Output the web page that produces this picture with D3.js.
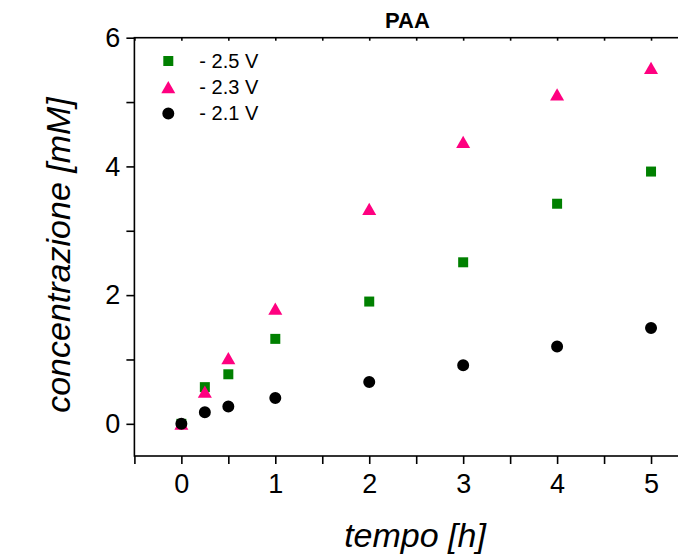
<!DOCTYPE html>
<html>
<head>
<meta charset="utf-8">
<script src="https://cdn.jsdelivr.net/npm/d3@7"></script>
<style>
  html, body { margin: 0; padding: 0; background: #fff; }
  svg { display: block; font-family: "Liberation Sans", Arial, sans-serif; }
</style>
</head>
<body>
<svg id="chart"></svg>
<script>
// PAA concentration vs time, three potentials

const timeH = [0, 0.25, 0.5, 1, 2, 3, 4, 5];
const conc25 = [0, 0.57, 0.77, 1.32, 1.90, 2.51, 3.42, 3.92];
const conc23 = [0, 0.50, 1.02, 1.79, 3.34, 4.38, 5.12, 5.53];
const conc21 = [0, 0.18, 0.27, 0.40, 0.65, 0.91, 1.20, 1.49];

const seriesNames = ['- 2.5 V', '- 2.3 V', '- 2.1 V'];
const seriesColors = ['#008000', '#ff0080', '#000000'];
const seriesValues = [conc25, conc23, conc21];

const xTicks = [-0.5, 0, 0.5, 1, 1.5, 2, 2.5, 3, 3.5, 4, 4.5, 5, 5.5];
const yTicks = [0, 1, 2, 3, 4, 5, 6];

const width = 678, height = 554;
const margin = { top: 37.7, left: 134.4, right: -20, bottom: 98 };

const svg = d3.select('#chart')
    .attr('width', width)
    .attr('height', height);

const x = d3.scaleLinear()
    .domain([-0.5, 5.5])
    .range([margin.left, width - margin.right]);

const y = d3.scaleLinear()
    .domain([-0.5, 6])
    .range([height - margin.bottom, margin.top]);

// frame
svg.append('rect')
    .attr('x', x(-0.5))
    .attr('y', y(6))
    .attr('width', x(5.5) - x(-0.5))
    .attr('height', y(-0.5) - y(6))
    .attr('fill', 'none')
    .attr('stroke', '#000')
    .attr('stroke-width', 1.6);

// bottom axis
const xAxis = svg.append('g')
    .attr('transform', `translate(0,${y(-0.5)})`)
    .call(d3.axisBottom(x)
        .tickValues(xTicks)
        .tickSize(8)
        .tickPadding(10)
        .tickFormat(d => Number.isInteger(d) && d >= 0 ? d3.format('d')(d) : ''));

// top axis, inner ticks
const xTop = svg.append('g')
    .attr('transform', `translate(0,${y(6)})`)
    .call(d3.axisTop(x)
        .tickValues(xTicks)
        .tickSize(-3)
        .tickFormat(''));

// left axis
const yAxis = svg.append('g')
    .attr('transform', `translate(${x(-0.5)},0)`)
    .call(d3.axisLeft(y)
        .tickValues(yTicks)
        .tickSize(8)
        .tickPadding(6)
        .tickFormat(d => d % 2 === 0 ? d3.format('d')(d) : ''));

[xAxis, xTop, yAxis].forEach(a => {
    a.select('.domain').remove();
    a.selectAll('line').attr('stroke', '#000').attr('stroke-width', 1.6);
    a.selectAll('text')
        .attr('fill', '#000')
        .style('font-size', '27px')
        .style('font-family', '"Liberation Sans", Arial, sans-serif');
});

// markers
const symbolTypes = [
    d3.symbol().type(d3.symbolSquare).size(100),
    d3.symbol().type(d3.symbolTriangle).size(85),
    d3.symbol().type(d3.symbolCircle).size(113)
];
// triangle drawn centred on its bounding box
const symbolShift = [0, 2, 0];

seriesValues.forEach((vals, si) => {
    svg.append('g')
        .selectAll('path')
        .data(timeH.map((t, i) => ({ t, v: vals[i] })))
        .enter()
        .append('path')
        .attr('d', symbolTypes[si])
        .attr('transform', d => `translate(${x(d.t)},${y(d.v) + symbolShift[si]})`)
        .attr('fill', seriesColors[si]);
});

// legend
const legend = svg.append('g')
    .attr('transform', 'translate(168.3,61)');

seriesNames.forEach((name, i) => {
    const row = legend.append('g')
        .attr('transform', `translate(0,${i * 26.2})`);
    row.append('path')
        .attr('d', symbolTypes[i])
        .attr('transform', `translate(0,${symbolShift[i]})`)
        .attr('fill', seriesColors[i]);
    row.append('text')
        .attr('x', 31)
        .attr('y', 7)
        .style('font-size', '20px')
        .attr('fill', '#000')
        .text(name);
});

// title
svg.append('text')
    .attr('x', 407.5)
    .attr('y', 28.3)
    .attr('text-anchor', 'middle')
    .style('font-size', '22px')
    .style('font-weight', 'bold')
    .text('PAA');

// axis titles
svg.append('text')
    .attr('x', 415)
    .attr('y', 547)
    .attr('text-anchor', 'middle')
    .style('font-size', '34px')
    .style('font-style', 'italic')
    .text('tempo [h]');

svg.append('text')
    .attr('transform', 'translate(70,255) rotate(-90)')
    .attr('text-anchor', 'middle')
    .style('font-size', '34px')
    .style('font-style', 'italic')
    .text('concentrazione [mM]');
</script>
</body>
</html>
